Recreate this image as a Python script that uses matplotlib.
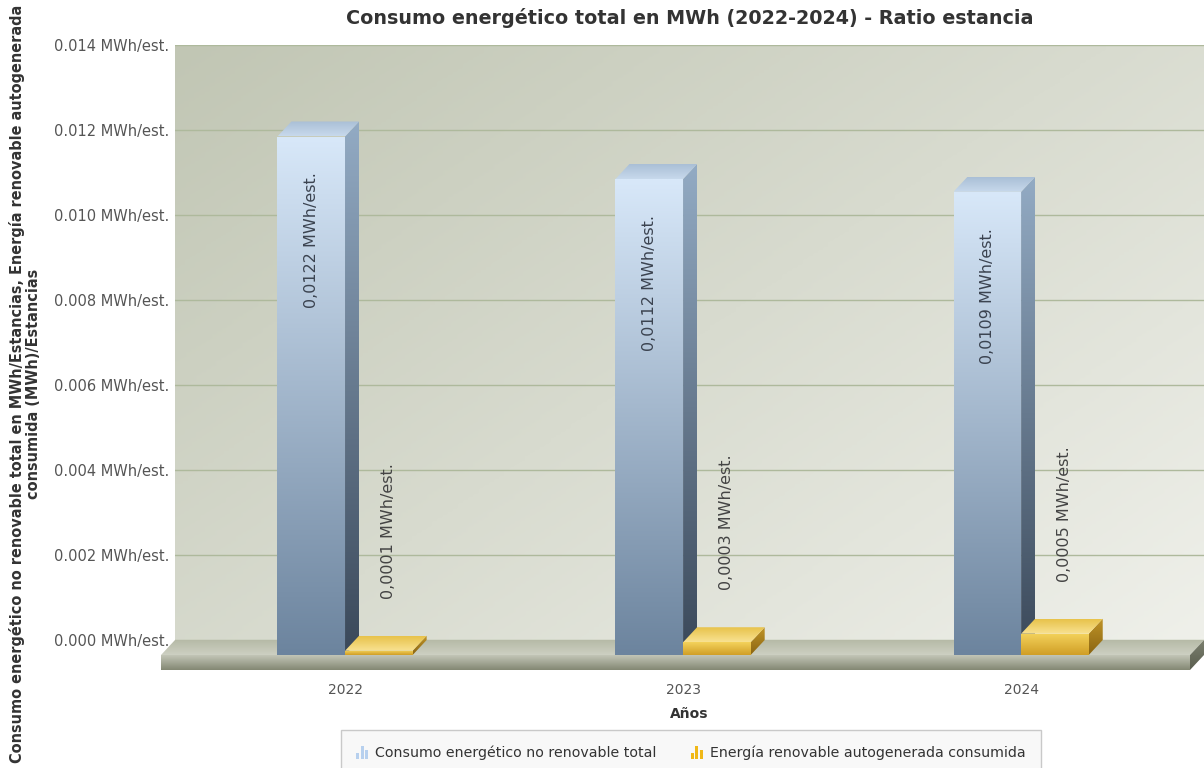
import numpy as np
import matplotlib.pyplot as plt
from matplotlib.patches import Polygon, Rectangle, Patch
from matplotlib.colors import LinearSegmentedColormap
from matplotlib.legend_handler import HandlerBase

years = ["2022", "2023", "2024"]
no_renovable = [0.0122, 0.0112, 0.0109]
renovable = [0.0001, 0.0003, 0.0005]
y_ticks = [0.000, 0.002, 0.004, 0.006, 0.008, 0.010, 0.012, 0.014]
series_names = ["Consumo energético no renovable total",
                "Energía renovable autogenerada consumida"]

W, H = 1204, 768
fig = plt.figure(figsize=(W / 100, H / 100), dpi=100)
fig.patch.set_facecolor("white")

# plot area (back wall) in pixels
left, right, top, base = 175, 1204, 45, 640
x_lo, x_hi = -0.503, 2.541
y_lo, y_hi = 0.0, 0.014

ax = fig.add_axes([left / W, 1 - base / H, (right - left) / W, (base - top) / H])
ax.set_xlim(x_lo, x_hi)
ax.set_ylim(y_lo, y_hi)

sx = (right - left) / (x_hi - x_lo)
sy = (base - top) / (y_hi - y_lo)
dx = 14 / sx      # 3d depth offset
dy = 15 / sy
slab = 15 / sy    # floor thickness

# back wall shading
wall = LinearSegmentedColormap.from_list("wall", ["#c1c6b4", "#eff0ea"])
gx, gy = np.meshgrid(np.linspace(0, 1, 200), np.linspace(0, 1, 200))
ax.imshow(gx * 0.55 + gy * 0.45, extent=(0, 1, 0, 1), transform=ax.transAxes,
          origin="upper", aspect="auto", cmap=wall, zorder=0)
ax.set_xlim(x_lo, x_hi)
ax.set_ylim(y_lo, y_hi)

ax.set_yticks(y_ticks)
ax.set_yticklabels([f"{t:.3f} MWh/est." for t in y_ticks])
ax.yaxis.grid(True, color="#aeb99c", lw=1)
ax.set_axisbelow(False)
ax.set_xticks(range(len(years)))
ax.set_xticklabels(years)
ax.tick_params(length=0, labelcolor="#555555")
ax.tick_params(axis="y", pad=4, labelsize=10.5)
ax.tick_params(axis="x", pad=31, labelsize=10)
ax.set_xlabel("Años", fontsize=10, fontweight="bold", color="#333333", labelpad=7)
for s in ax.spines.values():
    s.set_visible(False)

# overlay with the same data mapping, covering the whole figure
ov = fig.add_axes([0, 0, 1, 1], zorder=2)
ov.patch.set_alpha(0)
ov.axis("off")
ox = (x_lo - left / sx, x_hi + (W - right) / sx)
oy = (y_lo - (H - base) / sy, y_hi + top / sy)


def shaded(verts, c_top, c_bot, z):
    cmap = LinearSegmentedColormap.from_list("", [c_bot, c_top])
    xs = [p[0] for p in verts]
    ys = [p[1] for p in verts]
    poly = Polygon(verts, closed=True, facecolor="none", edgecolor="none")
    ov.add_patch(poly)
    grad = np.linspace(0, 1, 256).reshape(-1, 1)
    im = ov.imshow(grad, extent=(min(xs), max(xs), min(ys), max(ys)),
                   origin="lower", aspect="auto", cmap=cmap, zorder=z,
                   interpolation="bilinear")
    im.set_clip_path(poly)


def bar3d(x0, x1, v, pal, z):
    front = [(x0, -dy), (x1, -dy), (x1, v - dy), (x0, v - dy)]
    side = [(x1, -dy), (x1 + dx, 0), (x1 + dx, v), (x1, v - dy)]
    lid = [(x0, v - dy), (x1, v - dy), (x1 + dx, v), (x0 + dx, v)]
    shaded(side, pal[2], pal[3], z)
    shaded(front, pal[0], pal[1], z + 0.1)
    shaded(lid, pal[4], pal[5], z + 0.2)


# floor slab
shaded([(x_lo - dx, -dy), (x_hi - dx, -dy), (x_hi, 0), (x_lo, 0)],
       "#b6baa7", "#cdd0c2", 1)
shaded([(x_lo - dx, -dy - slab), (x_hi - dx, -dy - slab), (x_hi - dx, -dy), (x_lo - dx, -dy)],
       "#c3c6b7", "#838773", 1)
shaded([(x_hi - dx, -dy - slab), (x_hi, -slab), (x_hi, 0), (x_hi - dx, -dy)],
       "#7b7f6e", "#5a5e4f", 1)

blue = ["#d8e8f9", "#6c849e", "#93abc4", "#3a4859", "#a9bfd6", "#c8d9ec"]
gold = ["#f4d35c", "#d09e26", "#c09428", "#8a6512", "#e8c24a", "#f8e292"]
width = 0.2
z = 2
for i in range(len(years)):
    bar3d(i - width, i, no_renovable[i], blue, z)
    bar3d(i, i + width, renovable[i], gold, z + 1)
    z += 2

    ov.annotate(f"{no_renovable[i]:.4f} MWh/est.".replace(".", ",", 1),
                xy=(i - width / 2, no_renovable[i] - dy), xytext=(0, -36),
                textcoords="offset pixels", rotation=90, ha="center", va="top",
                fontsize=11.5, color="#3b4350", zorder=20)
    ov.annotate(f"{renovable[i]:.4f} MWh/est.".replace(".", ",", 1),
                xy=(i + width / 2, renovable[i] - dy), xytext=(10, 52),
                textcoords="offset pixels", rotation=90, ha="center", va="bottom",
                fontsize=11.5, color="#444444", zorder=20)

ov.set_xlim(*ox)
ov.set_ylim(*oy)

fig.text(690 / W, 1 - 18 / H, "Consumo energético total en MWh (2022-2024) - Ratio estancia",
         ha="center", va="center", fontsize=13.8, fontweight="bold", color="#333333")

fig.text(25 / W, 1 - 384 / H,
         "Consumo energético no renovable total en MWh/Estancias, Energía renovable autogenerada\n"
         "consumida (MWh)/Estancias",
         rotation=90, ha="center", va="center", multialignment="center",
         fontsize=10.45, fontweight="bold", color="#333333", linespacing=1.1)


class BarIcon(HandlerBase):
    def create_artists(self, legend, orig_handle, xdescent, ydescent,
                       width, height, fontsize, trans):
        c = orig_handle.get_facecolor()
        w = width / 4.5
        arts = []
        for k, h in enumerate([0.45, 1.0, 0.7]):
            r = Rectangle((-xdescent + k * w * 1.6, -ydescent), w, height * h,
                          facecolor=c, edgecolor="none", transform=trans)
            arts.append(r)
        return arts


handles = [Patch(facecolor="#b7d0ee"), Patch(facecolor="#f0b818")]
leg = fig.legend(handles, series_names, loc="upper center", ncol=2,
                 bbox_to_anchor=(691 / W, 1 - 730 / H), fontsize=10.2,
                 handler_map={Patch: BarIcon()}, handlelength=0.9, handleheight=1.0,
                 handletextpad=0.45, columnspacing=2.4, borderpad=1.1,
                 borderaxespad=0, frameon=True, fancybox=False,
                 edgecolor="#c9c9c9", facecolor="#f8f8f8", framealpha=1)
for t in leg.get_texts():
    t.set_color("#333333")

fig.savefig("out.png", dpi=100)
